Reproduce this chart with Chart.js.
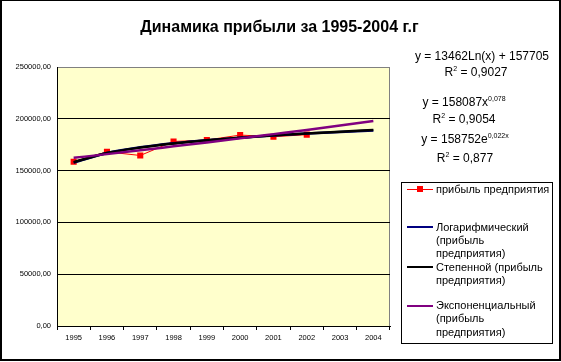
<!DOCTYPE html>
<html>
<head>
<meta charset="utf-8">
<script src="https://cdn.jsdelivr.net/npm/chart.js@4/dist/chart.umd.min.js"></script>
<style>
  html, body { margin:0; padding:0; background:#fff; }
  #wrap { position:relative; width:561px; height:362px; overflow:hidden; font-family: Arial, "Liberation Sans", sans-serif; color:#000; }
  #c { position:absolute; left:0; top:0; }
  .abs { position:absolute; white-space:nowrap; }
  .eq { position:absolute; width:160px; text-align:center; font-size:12px; line-height:14px; white-space:nowrap; }
  .eq sup { font-size:7px; vertical-align:0; position:relative; top:-5px; }
  #frame { position:absolute; left:0; top:0; width:557px; height:358px; border-left:2px solid #000; border-right:2px solid #000; border-bottom:2px solid #000; border-top:1px solid #000; pointer-events:none; }
  #legend { position:absolute; left:401px; top:182px; width:150px; height:160px; border:1px solid #000; background:#fff; }
  .lg { position:absolute; font-size:11px; line-height:13.3px; white-space:nowrap; }
  .sw { position:absolute; width:26px; }
</style>
</head>
<body>
<div id="wrap">
  <canvas id="c" width="561" height="362"></canvas>
  <div class="abs" style="left:0;width:559px;top:17px;text-align:center;font-weight:bold;font-size:16px;line-height:20px;">Динамика прибыли за 1995-2004 г.г</div>

  <div class="eq" style="left:402px;top:48.7px;">y = 13462Ln(x) + 157705</div>
  <div class="eq" style="left:396px;top:64.7px;">R<sup>2</sup> = 0,9027</div>
  <div class="eq" style="left:384px;top:94.7px;">y = 158087x<sup>0,078</sup></div>
  <div class="eq" style="left:384px;top:112px;">R<sup>2</sup> = 0,9054</div>
  <div class="eq" style="left:385px;top:132px;">y = 158752e<sup>0,022x</sup></div>
  <div class="eq" style="left:385px;top:151px;">R<sup>2</sup> = 0,877</div>

  <div id="legend"></div>
  <div class="sw" style="left:407px;top:188.5px;height:1px;background:#ff0000;"></div>
  <div class="abs" style="left:417px;top:186px;width:6px;height:6px;background:#ff0000;"></div>
  <div class="lg" style="left:436px;top:182.5px;">прибыль предприятия</div>

  <div class="sw" style="left:407px;top:226px;height:2px;background:#000080;"></div>
  <div class="lg" style="left:436px;top:220.5px;">Логарифмический<br>(прибыль<br>предприятия)</div>

  <div class="sw" style="left:407px;top:266px;height:2px;background:#000000;"></div>
  <div class="lg" style="left:436px;top:260.8px;">Степенной (прибыль<br>предприятия)</div>

  <div class="sw" style="left:407px;top:304.5px;height:2px;background:#800080;"></div>
  <div class="lg" style="left:436px;top:299.2px;">Экспоненциальный<br>(прибыль<br>предприятия)</div>

  <div id="frame"></div>
</div>
<script>
const years = ['1995','1996','1997','1998','1999','2000','2001','2002','2003','2004'];
const profit = [158600, 168100, 164600, 178100, 179500, 184300, 182700, 184700];
const logTrend = [157700, 167000, 172500, 176400, 179400, 181800, 183900, 185700, 187300, 188700];
const powTrend = [158100, 166900, 172200, 176100, 179200, 181800, 184000, 185900, 187600, 189200];
const expTrend = [162300, 165900, 169600, 173400, 177200, 181100, 185200, 189300, 193500, 197800];
const yTicks = [0, 50000, 100000, 150000, 200000, 250000];

const plotBg = {
  id: 'plotBg',
  beforeDraw(chart) {
    const a = chart.chartArea, ctx = chart.ctx;
    ctx.save();
    ctx.fillStyle = '#FFFFCC';
    ctx.fillRect(a.left, a.top, a.right - a.left, a.bottom - a.top);
    ctx.strokeStyle = '#808080';
    ctx.lineWidth = 1;
    ctx.beginPath();
    ctx.moveTo(a.left, a.top + 0.5);
    ctx.lineTo(a.right - 0.5, a.top + 0.5);
    ctx.lineTo(a.right - 0.5, a.bottom);
    ctx.stroke();
    ctx.restore();
  }
};

new Chart(document.getElementById('c'), {
  type: 'line',
  data: {
    labels: years,
    datasets: [
      { label: 'прибыль предприятия', data: profit, borderColor: '#ff0000', backgroundColor: '#ff0000',
        borderWidth: 1, pointStyle: 'rect', pointRadius: 4.3, pointBorderWidth: 0, tension: 0, order: 4 },
      { label: 'Логарифмический (прибыль предприятия)', data: logTrend, borderColor: '#000080',
        borderWidth: 2.5, pointRadius: 0, cubicInterpolationMode: 'monotone', order: 3 },
      { label: 'Степенной (прибыль предприятия)', data: powTrend, borderColor: '#000000',
        borderWidth: 2.5, pointRadius: 0, cubicInterpolationMode: 'monotone', order: 2 },
      { label: 'Экспоненциальный (прибыль предприятия)', data: expTrend, borderColor: '#800080',
        borderWidth: 2.5, pointRadius: 0, cubicInterpolationMode: 'monotone', order: 1 }
    ]
  },
  options: {
    responsive: false,
    animation: false,
    devicePixelRatio: 1,
    layout: { padding: { left: 0, top: 67, right: 171, bottom: 0 } },
    plugins: { legend: { display: false }, title: { display: false }, tooltip: { enabled: false } },
    scales: {
      x: {
        offset: true,
        grid: { offset: true, drawOnChartArea: false, drawTicks: true, tickLength: 4, tickColor: '#000', color: '#000' },
        border: { display: true, color: '#000', width: 1 },
        ticks: { color: '#000', font: { family: 'Arial', size: 7.5 }, padding: 3, maxRotation: 0, autoSkip: false },
        afterFit(s) { s.height = 36; }
      },
      y: {
        min: 0, max: 250000,
        afterBuildTicks(s) { s.ticks = yTicks.map(v => ({ value: v })); },
        grid: { drawTicks: false, color: (ctx) => ctx.tick && ctx.tick.value === 250000 ? '#808080' : '#000', lineWidth: 1 },
        border: { display: true, color: '#000', width: 1 },
        ticks: { color: '#000', font: { family: 'Arial', size: 7.5 }, padding: 6,
                 callback: (v) => v + ',00' },
        afterFit(s) { s.width = 57; }
      }
    }
  },
  plugins: [plotBg]
});
</script>
</body>
</html>
